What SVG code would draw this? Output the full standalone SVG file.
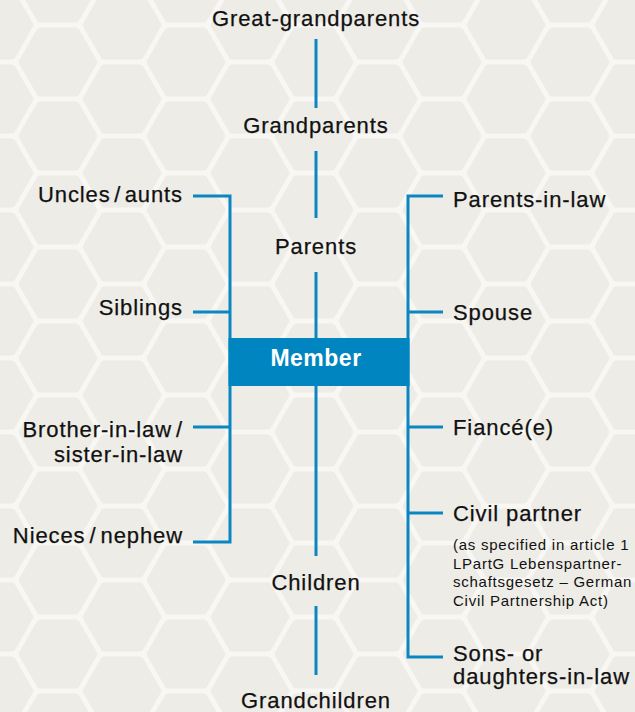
<svg xmlns="http://www.w3.org/2000/svg" width="635" height="712" viewBox="0 0 635 712">
  <style>
    .lbl { font-family: "Liberation Sans", Arial, sans-serif; font-size: 22px; letter-spacing: 0.9px; fill: #111111; stroke: #111111; stroke-width: 0.25px; }
    .mid { text-anchor: middle; }
    .end { text-anchor: end; }
    .small { font-family: "Liberation Sans", Arial, sans-serif; font-size: 15px; letter-spacing: 0.75px; fill: #111111; }
    .member { font-family: "Liberation Sans", Arial, sans-serif; font-size: 23px; font-weight: bold; letter-spacing: 0.5px; fill: #ffffff; text-anchor: middle; }
    .conn { fill: none; stroke: #0a86c2; stroke-width: 3; }
  </style>
  <defs>
    <polygon id="hex" points="36.3,0 18.15,31.44 -18.15,31.44 -36.3,0 -18.15,-31.44 18.15,-31.44" fill="#edece6" stroke="#edece6" stroke-width="6" stroke-linejoin="round"/>
    <pattern id="honey" patternUnits="userSpaceOnUse" x="-6" y="25" width="128" height="74">
      <rect width="128" height="74" fill="#f8f7f4"/>
      <use href="#hex" x="64" y="37"/>
      <use href="#hex" x="0" y="0"/>
      <use href="#hex" x="128" y="0"/>
      <use href="#hex" x="0" y="74"/>
      <use href="#hex" x="128" y="74"/>
    </pattern>
  </defs>

  <rect width="635" height="712" fill="url(#honey)"/>

  <g id="connectors">
    <path class="conn" d="M316,39 V108 M316,151 V218 M316,272 V338 M316,386 V556 M316,606 V675"/>
    <path class="conn" d="M193,196 H230 V542 H193 M193,312 H230 M193,427 H230"/>
    <path class="conn" d="M443,196 H408 V657 H443 M408,312 H443 M408,427 H443 M408,513 H443"/>
  </g>

  <g id="member">
    <rect x="228.5" y="338" width="181" height="48" fill="#0085c0"/>
    <text class="member" x="316" y="366">Member</text>
  </g>

  <g id="great-grandparents"><text class="lbl mid" x="316" y="26">Great-grandparents</text></g>
  <g id="grandparents"><text class="lbl mid" x="316" y="133">Grandparents</text></g>
  <g id="parents"><text class="lbl mid" x="316" y="254">Parents</text></g>
  <g id="children"><text class="lbl mid" x="316" y="590">Children</text></g>
  <g id="grandchildren"><text class="lbl mid" x="316" y="708">Grandchildren</text></g>

  <g id="uncles-aunts"><text class="lbl end" x="183" y="202">Uncles<tspan dx="3.5">/</tspan><tspan dx="3.5">aunts</tspan></text></g>
  <g id="siblings"><text class="lbl end" x="183" y="315">Siblings</text></g>
  <g id="brother-sister-in-law">
    <text class="lbl end" x="183" y="437">Brother-in-law<tspan dx="4">/</tspan></text>
    <text class="lbl end" x="183" y="462">sister-in-law</text>
  </g>
  <g id="nieces-nephew"><text class="lbl end" x="183" y="543">Nieces<tspan dx="4">/</tspan><tspan dx="4">nephew</tspan></text></g>

  <g id="parents-in-law"><text class="lbl" x="453" y="207">Parents-in-law</text></g>
  <g id="spouse"><text class="lbl" x="453" y="320">Spouse</text></g>
  <g id="fiance"><text class="lbl" x="453" y="435">Fiancé(e)</text></g>
  <g id="civil-partner">
    <text class="lbl" x="453" y="521">Civil partner</text>
    <text class="small" x="453" y="550">(as specified in article 1</text>
    <text class="small" x="453" y="568.5">LPartG Lebenspartner-</text>
    <text class="small" x="453" y="587">schaftsgesetz – German</text>
    <text class="small" x="453" y="605.5">Civil Partnership Act)</text>
  </g>
  <g id="sons-daughters-in-law">
    <text class="lbl" x="453" y="661">Sons- or</text>
    <text class="lbl" x="453" y="684">daughters-in-law</text>
  </g>
</svg>
